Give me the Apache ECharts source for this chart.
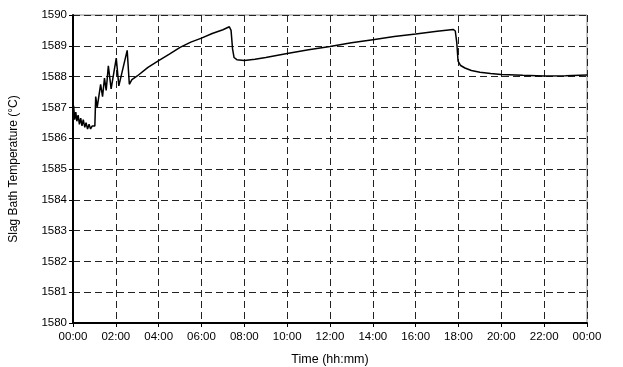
<!DOCTYPE html>
<html>
<head>
<meta charset="utf-8">
<script src="https://cdn.jsdelivr.net/npm/echarts@6/dist/echarts.min.js"></script>
<style>html,body{margin:0;padding:0;background:#fff}#c{width:623px;height:367px}</style>
</head>
<body>
<div id="c"></div>
<script>
// time in hours since 00:00
var times = [0.00,0.03,0.08,0.13,0.18,0.24,0.30,0.36,0.42,0.48,0.55,0.61,0.68,0.75,0.82,0.90,0.97,1.02,
  1.06,1.13,1.29,1.38,1.47,1.55,1.65,1.78,2.02,2.14,2.53,2.63,
  2.75,3.0,3.5,4.0,4.5,5.0,5.5,6.0,6.5,7.0,7.3,7.38,7.45,7.52,7.65,8.0,8.5,9.0,10.0,11.0,12.0,13.0,14.0,15.0,16.0,17.0,17.75,
  17.85,17.92,17.98,18.1,18.3,18.6,19.0,19.5,20.0,21.0,22.0,23.0,24.0];
var temps = [1586.55,1587.05,1586.6,1586.85,1586.55,1586.75,1586.45,1586.65,1586.4,1586.6,1586.35,1586.5,1586.3,1586.45,1586.3,1586.4,1586.35,1586.4,
  1587.35,1587.0,1587.75,1587.35,1587.95,1587.55,1588.35,1587.6,1588.6,1587.7,1588.85,1587.75,
  1587.9,1588.02,1588.3,1588.52,1588.73,1588.95,1589.12,1589.25,1589.4,1589.52,1589.62,1589.5,1588.9,1588.62,1588.55,1588.52,1588.56,1588.62,1588.75,1588.87,1588.98,1589.1,1589.2,1589.3,1589.38,1589.47,1589.53,
  1589.48,1589.1,1588.5,1588.36,1588.28,1588.2,1588.14,1588.1,1588.07,1588.04,1588.02,1588.03,1588.05];
var xTickLabels = ['00:00','02:00','04:00','06:00','08:00','10:00','12:00','14:00','16:00','18:00','20:00','22:00','00:00'];

var data = times.map(function(t,i){return [t,temps[i]];});
var font = 'Liberation Sans, Arial, sans-serif';
var chart = echarts.init(document.getElementById('c'));
chart.setOption({
  animation:false,
  backgroundColor:'#fff',
  grid:{left:73,right:36,top:15,bottom:44,containLabel:false,outerBoundsMode:'none',show:true,borderColor:'#8a8a8a',borderWidth:1,backgroundColor:'transparent'},
  xAxis:{type:'value',min:0,max:24,interval:2,
    name:'Time (hh:mm)',nameLocation:'middle',nameGap:30,
    nameTextStyle:{color:'#000',fontFamily:font,fontSize:12.5},
    axisLine:{lineStyle:{color:'#000',width:2}},
    axisTick:{show:true,length:4,lineStyle:{color:'#000'}},
    axisLabel:{color:'#000',fontFamily:font,fontSize:11.5,margin:8,
      formatter:function(v){return xTickLabels[Math.round(v/2)];}},
    splitLine:{show:true,lineStyle:{color:'#222',type:[7,4],width:1}}
  },
  yAxis:{type:'value',min:1580,max:1590,interval:1,
    name:'Slag Bath Temperature (°C)',nameLocation:'middle',nameGap:53,
    nameTextStyle:{color:'#000',fontFamily:font,fontSize:12},
    axisLine:{show:true,lineStyle:{color:'#000',width:2}},
    axisTick:{show:true,length:4,lineStyle:{color:'#000'}},
    axisLabel:{color:'#000',fontFamily:font,fontSize:11.5,margin:6,
      formatter:function(v){return String(v);}},
    splitLine:{show:true,lineStyle:{color:'#222',type:[7,4],width:1}}
  },
  series:[{type:'line',data:data,showSymbol:false,smooth:false,
    lineStyle:{color:'#000',width:1.5}}]
});
</script>
</body>
</html>
